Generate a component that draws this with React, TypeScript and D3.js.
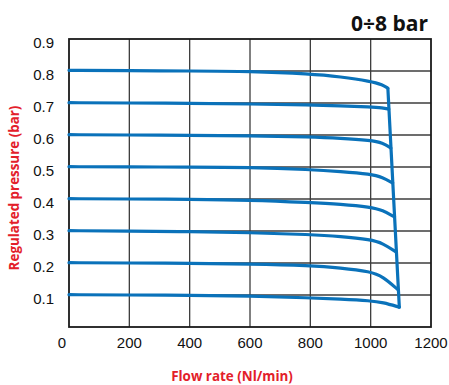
import React, { useEffect, useRef } from 'react';
import * as d3 from 'd3';

// common flow points (Nl/min) for the flat part of each curve
const flowPts = [0, 200, 400, 600, 800, 900, 1000, 1040];

// regulated pressure (bar) per set point, at flowPts
const p08 = [0.802, 0.801, 0.8, 0.799, 0.791, 0.782, 0.768, 0.757];
const p07 = [0.701, 0.7, 0.699, 0.697, 0.694, 0.691, 0.688, 0.685];
const p06 = [0.601, 0.6, 0.599, 0.598, 0.594, 0.59, 0.583, 0.576];
const p05 = [0.501, 0.5, 0.5, 0.499, 0.492, 0.486, 0.478, 0.468];
const p04 = [0.401, 0.4, 0.399, 0.397, 0.389, 0.384, 0.375, 0.365];
const p03 = [0.301, 0.3, 0.298, 0.295, 0.289, 0.283, 0.273, 0.262];
const p02 = [0.201, 0.2, 0.199, 0.197, 0.192, 0.185, 0.173, 0.158];
const p01 = [0.101, 0.1, 0.099, 0.097, 0.091, 0.087, 0.082, 0.077];

// where each curve meets the saturation line
const endFlow = [1057, 1060, 1067, 1073, 1079, 1085, 1091, 1095];
const endPressure = [0.746, 0.681, 0.559, 0.45, 0.344, 0.234, 0.116, 0.062];

// saturation (drop) line
const dropFlow = [1057, 1095];
const dropPressure = [0.746, 0.062];

const xTicks = [0, 200, 400, 600, 800, 1000, 1200];
const yTicks = [0.1, 0.2, 0.3, 0.4, 0.5, 0.6, 0.7, 0.8, 0.9];

const W = 449, H = 385;

export default function App() {
  const ref = useRef<SVGSVGElement>(null);

  useEffect(() => {
    const svg = d3.select(ref.current);
    svg.selectAll('*').remove();

    const left = 69, right = 431, top = 39, bottom = 327;
    const x = d3.scaleLinear().domain([0, 1200]).range([left, right]);
    const y = d3.scaleLinear().domain([0, 0.9]).range([bottom, top]);

    // grid
    const grid = svg.append('g').attr('stroke', '#3c3c3c').attr('stroke-width', 1.3);
    xTicks.slice(1, -1).forEach(t => {
      grid.append('line').attr('x1', x(t)).attr('x2', x(t)).attr('y1', top).attr('y2', bottom);
    });
    yTicks.slice(0, -1).forEach(t => {
      grid.append('line').attr('x1', left).attr('x2', right).attr('y1', y(t)).attr('y2', y(t));
    });

    // frame
    svg.append('rect')
      .attr('x', left).attr('y', top)
      .attr('width', right - left).attr('height', bottom - top)
      .attr('fill', 'none').attr('stroke', '#1a1a1a').attr('stroke-width', 1.8);

    // curves
    const line = d3.line<[number, number]>()
      .x(d => x(d[0])).y(d => y(d[1]))
      .curve(d3.curveBasis);
    const series = [p08, p07, p06, p05, p04, p03, p02, p01];
    series.forEach((vals, i) => {
      const pts: [number, number][] = flowPts.map((f, j) => [f, vals[j]]);
      pts.push([endFlow[i], endPressure[i]]);
      svg.append('path')
        .attr('d', line(pts))
        .attr('fill', 'none')
        .attr('stroke', '#0a72ba')
        .attr('stroke-width', 3.2)
        .attr('stroke-linejoin', 'round')
        .attr('stroke-linecap', 'round');
    });
    const drop: [number, number][] = dropFlow.map((f, j) => [f, dropPressure[j]]);
    svg.append('path')
      .attr('d', d3.line<[number, number]>().x(d => x(d[0])).y(d => y(d[1]))(drop))
      .attr('fill', 'none')
      .attr('stroke', '#0a72ba')
      .attr('stroke-width', 3.2)
      .attr('stroke-linecap', 'round');

    // tick labels
    const tickFont = 'Liberation Sans, Arial, sans-serif';
    xTicks.forEach(t => {
      svg.append('text')
        .attr('x', t === 0 ? x(t) - 7 : x(t))
        .attr('y', 348)
        .attr('text-anchor', 'middle')
        .attr('font-family', tickFont)
        .attr('font-size', 15)
        .attr('fill', '#111')
        .text(String(t));
    });
    yTicks.forEach(t => {
      svg.append('text')
        .attr('x', 54)
        .attr('y', y(t) + 8.5)
        .attr('text-anchor', 'end')
        .attr('font-family', tickFont)
        .attr('font-size', 15)
        .attr('fill', '#111')
        .text(t.toFixed(1));
    });

    // titles
    svg.append('text')
      .attr('x', 428).attr('y', 31)
      .attr('text-anchor', 'end')
      .attr('font-family', 'Open Sans, sans-serif')
      .attr('font-weight', 'bold')
      .attr('font-size', 21)
      .attr('fill', '#111')
      .text('0÷8 bar');

    svg.append('text')
      .attr('x', 232).attr('y', 381)
      .attr('text-anchor', 'middle')
      .attr('font-family', 'Open Sans, sans-serif')
      .attr('font-weight', 'bold')
      .attr('font-size', 13.4)
      .attr('fill', '#e3202a')
      .text('Flow rate (Nl/min)');

    svg.append('text')
      .attr('transform', 'translate(19,188) rotate(-90)')
      .attr('text-anchor', 'middle')
      .attr('font-family', 'Open Sans, sans-serif')
      .attr('font-weight', 'bold')
      .attr('font-size', 13.4)
      .attr('fill', '#e3202a')
      .text('Regulated pressure (bar)');
  }, []);

  return (
    <svg
      ref={ref}
      width={W}
      height={H}
      style={{ position: 'absolute', left: 0, top: 0, background: '#fff' }}
    />
  );
}
